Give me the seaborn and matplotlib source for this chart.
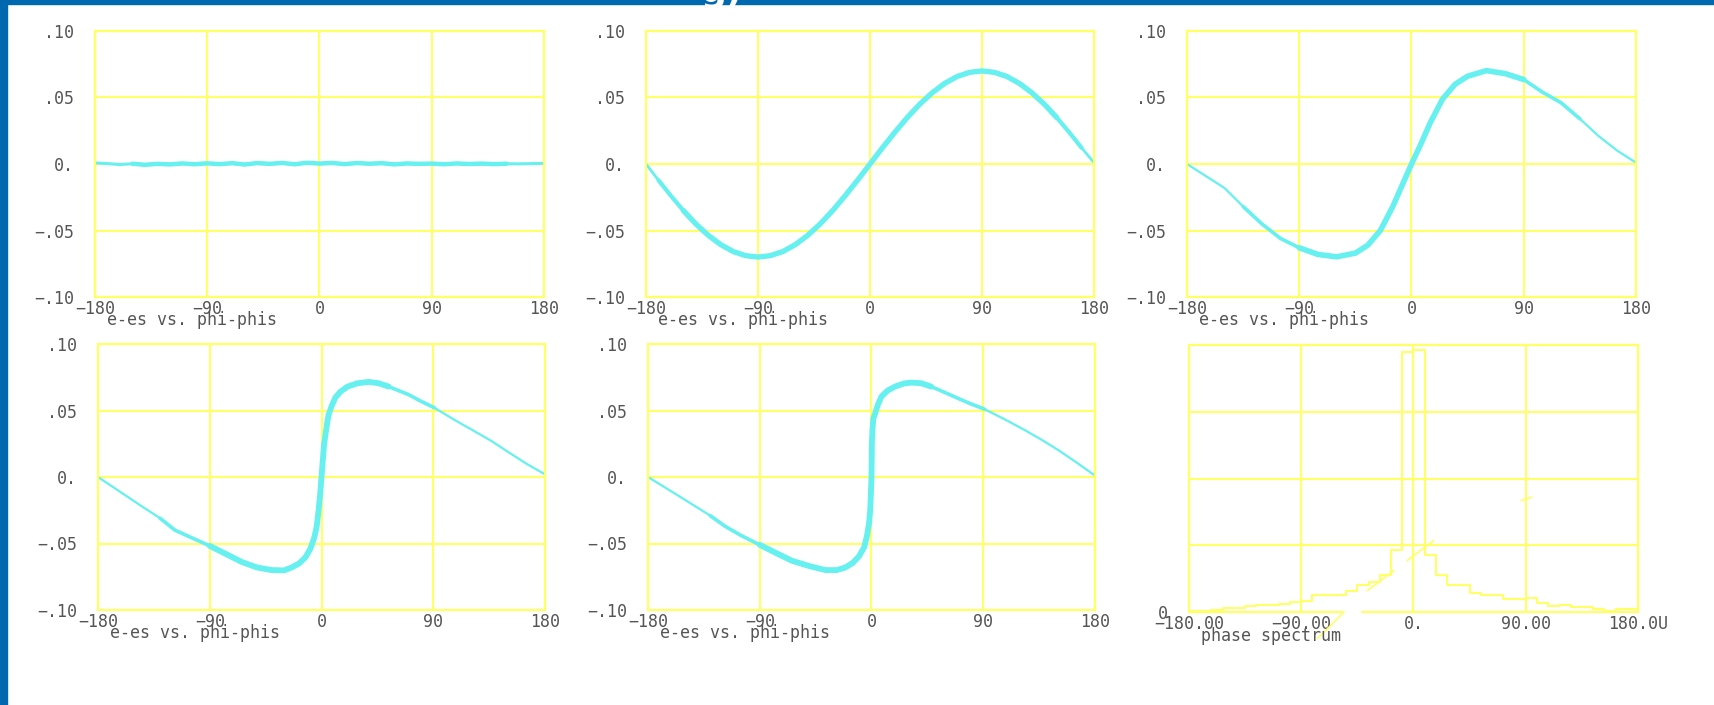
import matplotlib
matplotlib.use("Agg")
import numpy as np
import matplotlib.pyplot as plt
import seaborn as sns
from matplotlib.patches import Rectangle

# panel 1: e-es vs phi-phis, almost flat
phi_a = [-180, -170, -160, -150, -140, -130, -120, -110, -100, -90, -80, -70, -60, -50, -40, -30, -20, -10, 0,
         10, 20, 30, 40, 50, 60, 70, 80, 90, 100, 110, 120, 130, 140, 150, 160, 170, 180]
ee_a = [0.0008, 0.0003, -0.0004, 0.0002, -0.0006, 0.0001, -0.0003, 0.0004, -0.0002, 0.0005, -0.0001, 0.0006,
        -0.0004, 0.0007, 0.0001, 0.0008, -0.0002, 0.0009, 0.0003, 0.0008, -0.0001, 0.0007, 0.0002, 0.0006,
        -0.0003, 0.0004, 0.0001, 0.0003, -0.0002, 0.0004, 0.0, 0.0003, -0.0001, 0.0002, 0.0001, 0.0003, 0.0005]

# panel 2: sine-like
phi_b = [-180, -170, -160, -150, -140, -130, -120, -110, -100, -90, -80, -70, -60, -50, -40, -30, -20, -10, 0,
         10, 20, 30, 40, 50, 60, 70, 80, 90, 100, 110, 120, 130, 140, 150, 160, 170, 180]
ee_b = [0.0, -0.0122, -0.0239, -0.035, -0.045, -0.0536, -0.0606, -0.0658, -0.0689, -0.070, -0.0689, -0.0658,
        -0.0606, -0.0536, -0.045, -0.035, -0.0239, -0.0122, 0.0, 0.0122, 0.0239, 0.035, 0.045, 0.0536, 0.0606,
        0.0658, 0.0689, 0.070, 0.0689, 0.0658, 0.0606, 0.0536, 0.045, 0.035, 0.0239, 0.0122, 0.001]

# panel 3
phi_c = [-180, -165, -150, -135, -120, -105, -90, -75, -60, -45, -35, -25, -15, -8, 0,
         8, 15, 25, 35, 45, 60, 75, 90, 105, 120, 135, 150, 165, 180]
ee_c = [0.0, -0.009, -0.018, -0.032, -0.045, -0.056, -0.063, -0.068, -0.0698, -0.067, -0.061, -0.050, -0.032,
        -0.017, 0.0, 0.016, 0.031, 0.049, 0.060, 0.066, 0.0702, 0.068, 0.0635, 0.054, 0.046, 0.034, 0.021, 0.010, 0.001]

# panel 4
phi_d = [-180, -160, -144, -130, -118, -105, -90, -75, -64, -52, -40, -30, -24, -18, -13, -9, -6, -4, -2.4, -1, 0,
         1, 2, 3.5, 5.5, 8, 11, 15, 21, 29, 38, 46, 54, 62, 70, 80, 91, 107, 123, 137, 150, 165, 180]
ee_d = [0.0, -0.0125, -0.0225, -0.031, -0.040, -0.0455, -0.0518, -0.0588, -0.064, -0.068, -0.070, -0.0702,
        -0.068, -0.065, -0.0605, -0.054, -0.046, -0.038, -0.0255, -0.012, 0.0, 0.012, 0.024, 0.034, 0.046, 0.053,
        0.0595, 0.064, 0.068, 0.0705, 0.0715, 0.0705, 0.068, 0.065, 0.062, 0.057, 0.052, 0.043, 0.0345, 0.027,
        0.019, 0.010, 0.002]

# panel 5
phi_e = [-180, -160, -144, -130, -118, -105, -90, -75, -64, -50, -37, -28, -21, -15, -10, -6, -3.7, -2, -1, 0,
         0.3, 0.8, 1.5, 3, 5, 8, 13, 19, 26, 32, 40, 48, 58, 70, 80, 91, 107, 123, 137, 150, 165, 180]
ee_e = [0.0, -0.0115, -0.0208, -0.029, -0.037, -0.044, -0.051, -0.058, -0.063, -0.067, -0.070, -0.0700, -0.068,
        -0.0645, -0.0595, -0.053, -0.0445, -0.035, -0.0245, 0.0, 0.0255, 0.036, 0.044, 0.048, 0.054, 0.0605,
        0.065, 0.068, 0.0703, 0.071, 0.0705, 0.068, 0.064, 0.059, 0.055, 0.051, 0.0435, 0.0355, 0.028, 0.0205,
        0.011, 0.001]

# panel 6: phase spectrum histogram (9 degree bins)
spec_centers = [-175.5, -166.5, -157.5, -148.5, -139.5, -130.5, -121.5, -112.5, -103.5, -94.5,
                -85.5, -76.5, -67.5, -58.5, -49.5, -40.5, -31.5, -22.5, -13.5, -4.5,
                4.5, 13.5, 22.5, 31.5, 40.5, 49.5, 58.5, 67.5, 76.5, 85.5,
                94.5, 103.5, 112.5, 121.5, 130.5, 139.5, 148.5, 157.5, 166.5, 175.5]
spec_counts = [0.01, 0.01, 0.035, 0.06, 0.06, 0.09, 0.11, 0.11, 0.125, 0.15,
               0.16, 0.25, 0.25, 0.25, 0.32, 0.40, 0.45, 0.56, 0.93, 3.89,
               3.93, 0.85, 0.56, 0.41, 0.41, 0.28, 0.25, 0.25, 0.19, 0.19,
               0.21, 0.14, 0.085, 0.10, 0.075, 0.075, 0.04, 0.02, 0.04, 0.04]
# stray strokes in the spectrum panel
stray_x = [(-77, -55.7), (-37, -15.7), (-5.1, 16.2), (86.2, 94.8)]
stray_y = [(-0.40, 0.0), (0.32, 0.62), (0.77, 1.07), (1.67, 1.72)]

xticks = [-180, -90, 0, 90, 180]
xlabels = ["\u2212180", "\u221290", "0", "90", "180"]
yticks = [-0.10, -0.05, 0.0, 0.05, 0.10]
ylabels = ["\u2212.10", "\u2212.05", "0.", ".05", ".10"]
spec_xlabels = ["\u2212180.00", "\u221290.00", "0.", "90.00", "180.0U"]

sns.set_style("white")
plt.rcParams["font.family"] = ["DejaVu Sans Mono", "DejaVu Sans"]

YEL = "#FFFF66"
CYAN = "#66F0F0"
BLUE = "#0068AE"
TXT = "#555555"
FS = 12

W, H = 1715, 705
fig = plt.figure(figsize=(W / 100, H / 100), dpi=100)
fig.patch.set_facecolor("white")
fig.patches.append(Rectangle((0, 0), 7 / W, 1, transform=fig.transFigure, color=BLUE, zorder=10))
fig.patches.append(Rectangle((0, 1 - 4 / H), 1, 4 / H, transform=fig.transFigure, color=BLUE, zorder=10))
fig.text(700 / W, 1 - 2 / H, "g)", color="white", fontsize=26, fontweight="bold",
         family="DejaVu Sans", va="baseline", zorder=11)

# axes boxes in pixels: left, top, right, bottom
boxes = [(95, 31, 544, 297), (646, 31, 1094, 297), (1187, 31, 1636, 297),
         (98, 344, 545, 610), (648, 344, 1095, 610), (1189, 345, 1638, 612)]
axes = []
for (l, t, r, b) in boxes:
    axes.append(fig.add_axes([l / W, (H - b) / H, (r - l) / W, (b - t) / H]))


def style(ax):
    for s in ax.spines.values():
        s.set_color(YEL)
        s.set_linewidth(1.6)
    ax.tick_params(length=0, labelsize=FS, labelcolor=TXT)
    ax.grid(True, color=YEL, linewidth=1.5)
    ax.set_axisbelow(True)


# (x, y, [(range, width), ...]) - wider strokes where the points are dense
curves = [(phi_a, ee_a, [((-180, 180), 2.2), ((-150, 150), 3.2)]),
          (phi_b, ee_b, [((-180, 180), 2.0), ((-170, 170), 3.0), ((-150, 150), 3.8)]),
          (phi_c, ee_c, [((-180, 180), 1.6), ((-135, 135), 2.6), ((-95, 95), 4.0)]),
          (phi_d, ee_d, [((-180, 180), 1.6), ((-130, 91), 2.6), ((-90, 54), 4.2)]),
          (phi_e, ee_e, [((-180, 180), 1.6), ((-130, 91), 2.6), ((-90, 48), 4.2)])]

for ax, (xs, ys, layers) in zip(axes[:5], curves):
    style(ax)
    xs = np.array(xs)
    ys = np.array(ys)
    for rng, lw in layers:
        m = (xs >= rng[0]) & (xs <= rng[1])
        sns.lineplot(x=xs[m], y=ys[m], ax=ax, color=CYAN, linewidth=lw, sort=False, estimator=None,
                     solid_capstyle="round", solid_joinstyle="round")
    ax.set_xlim(-180, 180)
    ax.set_ylim(-0.10, 0.10)
    ax.set_xticks(xticks)
    ax.set_xticklabels(xlabels)
    ax.set_yticks(yticks)
    ax.set_yticklabels(ylabels)
    ax.tick_params(axis="x", pad=2)
    ax.tick_params(axis="y", pad=15)
    ax.set_xlabel("")
    ax.set_ylabel("")
    ax.text(0.027, -0.085, "e-es vs. phi-phis", transform=ax.transAxes, ha="left", va="center",
            fontsize=FS, color=TXT)

# spectrum panel
ax = axes[5]
style(ax)
ax.grid(False)
ax.spines["bottom"].set_visible(False)
sns.histplot(x=spec_centers, weights=spec_counts, bins=40, binrange=(-180, 180), element="step",
             fill=False, color=YEL, linewidth=1.5, ax=ax)
for sx, sy in zip(stray_x, stray_y):
    ax.plot(sx, sy, color=YEL, linewidth=1.2, clip_on=False)
ax.plot([-180, -57], [0, 0], color=YEL, linewidth=1.6, clip_on=False)
ax.plot([-41, 180], [0, 0], color=YEL, linewidth=1.6, clip_on=False)
ax.set_xlim(-180, 180)
ax.set_ylim(0, 4)
ax.set_xticks(xticks)
ax.set_xticklabels(spec_xlabels)
ax.set_yticks([0])
ax.set_yticklabels(["0"])
ax.set_yticks([1, 2, 3], minor=True)
ax.tick_params(which="minor", length=0)
ax.grid(True, axis="x", color=YEL, linewidth=1.5)
ax.grid(True, axis="y", which="minor", color=YEL, linewidth=1.5)
ax.tick_params(axis="x", pad=2)
ax.tick_params(axis="y", pad=15)
ax.set_xlabel("")
ax.set_ylabel("")
ax.text(0.027, -0.09, "phase spectrum", transform=ax.transAxes, ha="left", va="center",
        fontsize=FS, color=TXT)

plt.savefig("out.png", dpi=100, facecolor="white")
